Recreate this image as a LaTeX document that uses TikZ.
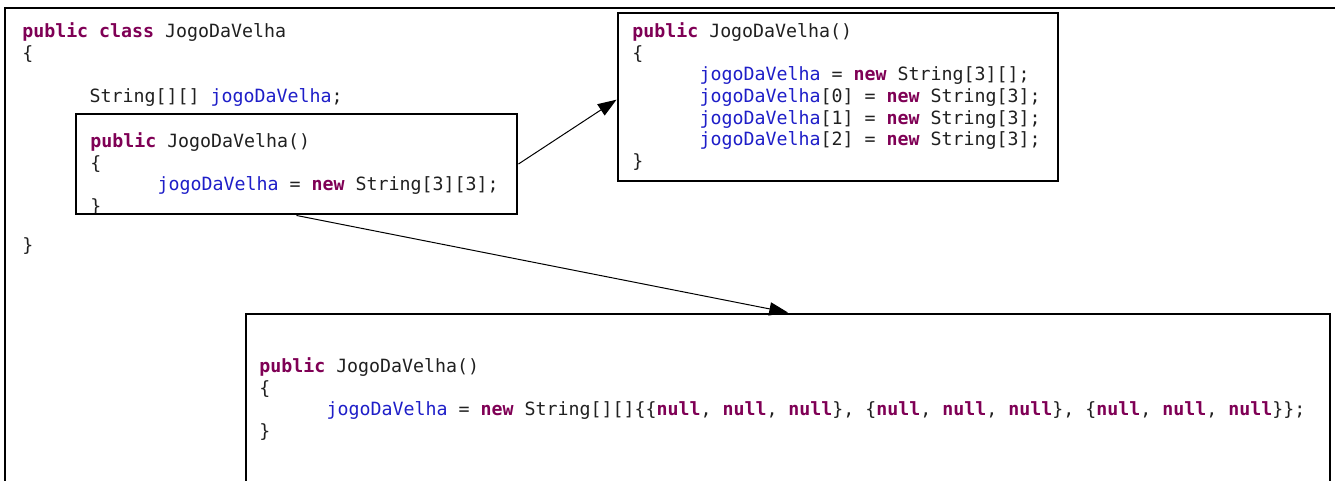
\documentclass[tikz,border=0pt]{standalone}
\usepackage{fontspec}
\setmonofont{DejaVu Sans Mono}
\usepackage{xcolor}
\usetikzlibrary{arrows.meta, positioning}
\definecolor{javakw}{HTML}{7F0055}
\definecolor{javafield}{HTML}{1E1EC8}
\definecolor{javatext}{HTML}{202020}
\newcommand{\kw}[1]{\textbf{\textcolor{javakw}{#1}}}
\newcommand{\fld}[1]{\textcolor{javafield}{#1}}
\newcommand{\ind}{\hspace*{50.5pt}}

\begin{document}
\begin{tikzpicture}[x=0.75pt, y=-0.75pt,
    code/.style={anchor=north west, inner sep=0pt, align=left, text=javatext,
                 font=\ttfamily\fontsize{13.7}{16.3}\selectfont},
    codebox/.style={draw=black, line width=2.2pt, inner sep=0pt},
    link/.style={-{Triangle[length=14pt, width=10pt]}, line width=0.75pt},
]
    \clip (0,0) rectangle (1335,480);

    % Page frame
    \draw[line width=1pt] (1345,8) -- (5,8) -- (5,490);

    % Code (first baselines at 37, 251, 147, 37, 372)
    \node[code] (classhead) at (22,21.8)
        {\strut\kw{public class} JogoDaVelha\\\{\\~\\\ind String[][] \fld{jogoDaVelha};};
    \node[code] (classend) at (22,235.8) {\strut\}};
    \node[code] (ctortext) at (90,131.8)
        {\strut\kw{public} JogoDaVelha()\\\{\\\ind\fld{jogoDaVelha} = \kw{new} String[3][3];\\\}};
    \node[code] (jaggedtext) at (632,21.8)
        {\strut\kw{public} JogoDaVelha()\\\{\\
         \ind\fld{jogoDaVelha} = \kw{new} String[3][];\\
         \ind\fld{jogoDaVelha}[0] = \kw{new} String[3];\\
         \ind\fld{jogoDaVelha}[1] = \kw{new} String[3];\\
         \ind\fld{jogoDaVelha}[2] = \kw{new} String[3];\\\}};
    \node[code] (literaltext) at (259,356.8)
        {\strut\kw{public} JogoDaVelha()\\\{\\
         \ind\fld{jogoDaVelha} = \kw{new} String[][]\{\{\kw{null}, \kw{null}, \kw{null}\}, \{\kw{null}, \kw{null}, \kw{null}\}, \{\kw{null}, \kw{null}, \kw{null}\}\};\\\}};

    % Boxes
    \node[codebox, minimum width=330.75pt, minimum height=75pt]  (ctor)    at (296.5,164) {};
    \node[codebox, minimum width=330pt,    minimum height=126pt] (jagged)  at (838,97)    {};
    \node[codebox, minimum width=813pt,    minimum height=154.5pt] (literal) at (788,417) {};

    % Arrows
    \draw[link] (ctor.east) -- ([yshift=-2pt]jagged.west);
    \draw[link] (ctor.south) -- (literal.north);
\end{tikzpicture}
\end{document}
